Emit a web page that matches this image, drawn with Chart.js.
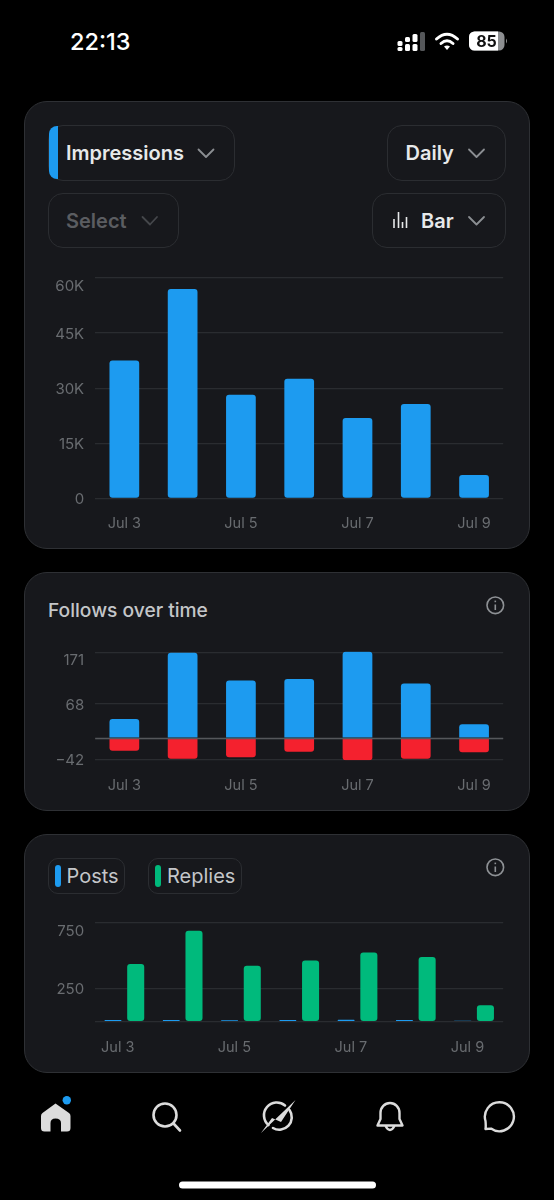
<!DOCTYPE html>
<html lang="en">
<head>
<meta charset="utf-8">
<title>Analytics</title>
<script src="https://cdn.jsdelivr.net/npm/chart.js@4/dist/chart.umd.min.js"></script>
<style>
  html, body { margin: 0; padding: 0; background: #000; }
  body { position: relative; width: 554px; height: 1200px; overflow: hidden; font-family: Inter, "Noto Sans", sans-serif; }
  .card, .btn, .stripe, .txt, canvas, svg.icons { position: absolute; box-sizing: border-box; }
  .card { left: 24px; width: 506px; background: #17181c; border: 1.5px solid #2e3034; border-radius: 23px; }
  .btn { border: 1.5px solid #2b2d31; border-radius: 15px; }
  .txt { white-space: nowrap; line-height: 28px; height: 28px; }
  .strong { font-size: 20px; font-weight: 600; color: #e7e9ea; }
  .plain { font-size: 20px; font-weight: 500; color: #c4c6c9; }
  svg.icons { left: 0; top: 0; pointer-events: none; }
</style>
</head>
<body>

<div class="card" style="top:100.5px;height:448px"></div>
<div class="card" style="top:571.5px;height:239px"></div>
<div class="card" style="top:833.5px;height:239px"></div>

<!-- status bar -->
<div class="txt" style="left:70px;top:27.5px;font-size:23.5px;font-weight:500;color:#fff">22:13</div>

<!-- filters -->
<div class="btn" style="left:48px;top:124.5px;width:187px;height:56px"></div>
<div class="stripe" style="left:49px;top:126px;width:9px;height:53px;background:#1d9bf0;border-radius:8px 0 0 8px"></div>
<div class="txt strong" style="left:66px;top:139px">Impressions</div>
<div class="btn" style="left:387px;top:124.5px;width:119px;height:56px"></div>
<div class="txt strong" style="left:405.5px;top:139px">Daily</div>
<div class="btn" style="left:48px;top:192.5px;width:130.5px;height:55.5px"></div>
<div class="txt strong" style="left:66px;top:207px;color:#5b5d61">Select</div>
<div class="btn" style="left:372px;top:192.5px;width:134px;height:55.5px"></div>
<div class="txt strong" style="left:421px;top:207px">Bar</div>

<!-- follows card title -->
<div class="txt plain" style="left:48px;top:595.5px;font-size:19.2px">Follows over time</div>

<!-- posts / replies legend -->
<div class="btn" style="left:48px;top:858px;width:77px;height:35.5px;border-radius:10px"></div>
<div class="stripe" style="left:55px;top:864.5px;width:5.5px;height:22px;background:#1d9bf0;border-radius:3px"></div>
<div class="txt plain" style="left:66.5px;top:862px;font-weight:400">Posts</div>
<div class="btn" style="left:148px;top:858px;width:93.5px;height:35.5px;border-radius:10px"></div>
<div class="stripe" style="left:155px;top:864.5px;width:5.5px;height:22px;background:#00ba7c;border-radius:3px"></div>
<div class="txt plain" style="left:167px;top:862px;font-weight:400">Replies</div>

<canvas id="impressionsChart" style="left:24px;top:260px"></canvas>
<canvas id="followsChart" style="left:24px;top:630px"></canvas>
<canvas id="postsChart" style="left:24px;top:900px"></canvas>

<svg class="icons" width="554" height="1200" viewBox="0 0 554 1200" fill="none">
  <!-- signal -->
  <g fill="#fff">
    <rect x="397.5" y="41" width="5" height="5" rx="1.5"/><rect x="397.5" y="47" width="5" height="4" rx="1.5"/>
    <rect x="405" y="37" width="5" height="5" rx="1.5"/><rect x="405" y="44" width="5" height="7" rx="1.5"/>
    <rect x="412.5" y="34" width="5" height="8" rx="1.5"/><rect x="412.5" y="44" width="5" height="7" rx="1.5"/>
    <rect x="420" y="32" width="5" height="19" rx="1.5" fill="#55575a"/>
  </g>
  <!-- wifi -->
  <g stroke="#fff" stroke-width="3" stroke-linecap="round">
    <path d="M436.5 39 Q447 29.5 457.5 39"/>
    <path d="M441 43.5 Q447 38 453 43.5"/>
  </g>
  <path d="M444 46.5 L447 50 L450 46.5 Q447 44.5 444 46.5Z" fill="#fff"/>
  <!-- battery -->
  <rect x="469" y="31.5" width="35.5" height="19" rx="5.5" fill="#8d8f91"/>
  <path d="M474.5 31.5 H498 V50.5 H474.5 A5.5 5.5 0 0 1 469 45 V37 A5.5 5.5 0 0 1 474.5 31.5Z" fill="#fff"/>
  <path d="M506 38.5 Q508 41 506 43.5Z" fill="#8d8f91"/>
  <text x="486.5" y="47" text-anchor="middle" font-family="Inter" font-size="16" font-weight="700" fill="#111">85</text>

  <!-- chevrons -->
  <g stroke="#8b8e92" stroke-width="1.8" stroke-linecap="round" stroke-linejoin="round">
    <polyline points="198.5,149.5 206,157 213.5,149.5"/>
    <polyline points="469,149.5 476.5,157 484,149.5"/>
    <polyline points="469,217 476.5,224.5 484,217"/>
    <polyline points="142.5,217 150,224.5 157,217" stroke="#45474b"/>
  </g>
  <!-- bar glyph -->
  <g stroke="#e7e9ea" stroke-width="1.6">
    <line x1="394" y1="219" x2="394" y2="228"/><line x1="398.5" y1="212" x2="398.5" y2="228"/>
    <line x1="402.5" y1="222" x2="402.5" y2="228"/><line x1="406.5" y1="217" x2="406.5" y2="228"/>
  </g>

  <!-- info icons -->
  <g stroke="#8e9195" stroke-width="1.6">
    <circle cx="495.3" cy="605.3" r="8.3"/><circle cx="495.3" cy="867.3" r="8.3"/>
    <line x1="495.3" y1="604.5" x2="495.3" y2="610"/><line x1="495.3" y1="866.5" x2="495.3" y2="872"/>
    <line x1="495.3" y1="600.6" x2="495.3" y2="602.2"/><line x1="495.3" y1="862.6" x2="495.3" y2="864.2"/>
  </g>

  <!-- bottom navigation -->
  <path fill-rule="evenodd" fill="#dcdcdc" d="M55.5 1103.5 L69 1113 Q70.5 1114 70.5 1116 V1128 Q70.5 1131.5 67 1131.5 H61 V1123 Q61 1118.5 55.5 1118.5 Q50.5 1118.5 50.5 1123 V1131.5 H44.5 Q41 1131.5 41 1128 V1116 Q41 1114 42.5 1113Z"/>
  <circle cx="66.8" cy="1100.3" r="4.2" fill="#1d9bf0"/>
  <g stroke="#dcdcdc" stroke-width="2.6" stroke-linecap="round" stroke-linejoin="round">
    <circle cx="165" cy="1115" r="11.5"/>
    <line x1="173.5" y1="1123.5" x2="180" y2="1130.5"/>
    <path d="M268.5 1125 A12.5 12.5 0 0 1 285 1105.5"/>
    <path d="M289.5 1110 A12.5 12.5 0 0 1 273 1128"/>
    <path d="M380.5 1113 A9.5 10 0 0 1 399.5 1113 V1119 L402.5 1125.5 H377.5 L380.5 1119Z M385.5 1126 Q390 1134 394.5 1126" stroke-width="2.4"/>
    <path d="M485.5 1128 L491 1127.6 A14.5 14.5 0 1 0 485.5 1120 Q486 1125 485.5 1128Z" stroke-width="2.4" transform="translate(0 1)"/>
  </g>
  <path d="M261 1133 L295.5 1100 L281 1122 L272 1118 Z" fill="#dcdcdc"/>
  <rect x="179" y="1181.5" width="197" height="7" rx="3.5" fill="#fff"/>
</svg>

<script>
// Chart data

const days = ["Jul 3", "Jul 4", "Jul 5", "Jul 6", "Jul 7", "Jul 8", "Jul 9"];

const impressions = [37550, 57000, 28200, 32560, 21900, 25700, 6400];
const impressionsTicks = [0, 15000, 30000, 45000, 60000];

const follows = [38, 170, 115, 118, 172, 109, 28];
const unfollows = [-25, -41, -38, -27, -44, -41, -28];
const followsTicks = [-42, 0, 68, 171];

const posts = [12, 12, 11, 12, 15, 13, 6];
const replies = [438, 692, 425, 465, 526, 491, 125];
const postsTicks = [0, 250, 750];

// Shared styling

const blue = "#1d9bf0";
const red = "#f4212e";
const green = "#00ba7c";
const gridColor = "#2a2c30";
const tickColor = "#696c70";

// Top tick label hangs under its grid line, an empty first line pushes it down
function yLabel(text, value, ticks) {
  if (value === ticks[ticks.length - 1]) return ["", text];
  return text;
}

function xAxis(height, padding, labelOffset) {
  return {
    grid: { display: false },
    border: { display: false },
    afterFit: (scale) => { scale.height = height; },
    ticks: {
      autoSkip: false,
      maxRotation: 0,
      padding: padding,
      labelOffset: labelOffset,
      color: tickColor,
      font: { family: "Inter", size: 14.5 },
      callback: (value, index) => (index % 2 === 0 ? days[index] : ""),
    },
  };
}

function yAxis(min, max, ticks, format, topDrop) {
  return {
    min: min,
    max: max,
    border: { display: false },
    grid: { color: gridColor, lineWidth: 1.3, drawTicks: false },
    afterFit: (scale) => {
      scale.width = 71.2;
      scale.paddingTop = 0;
      scale.paddingBottom = 0;
    },
    afterBuildTicks: (scale) => { scale.ticks = ticks.map((v) => ({ value: v })); },
    ticks: {
      padding: 11,
      labelOffset: 1,
      color: tickColor,
      font: { family: "Inter", size: 15, lineHeight: topDrop + "px" },
      callback: (value) => yLabel(format(value), value, ticks),
    },
  };
}

function sharedOptions(top, scales) {
  return {
    responsive: false,
    animation: false,
    layout: { padding: { top: top, right: 26.8, left: 0, bottom: 0 } },
    plugins: { legend: { display: false }, tooltip: { enabled: false } },
    scales: scales,
  };
}

function sizeCanvas(id, height) {
  const canvas = document.getElementById(id);
  canvas.width = 506;
  canvas.height = height;
  return canvas.getContext("2d");
}

// Impressions

new Chart(sizeCanvas("impressionsChart", 290), {
  type: "bar",
  data: {
    labels: days,
    datasets: [{
      label: "Impressions",
      data: impressions,
      backgroundColor: blue,
      borderRadius: 3,
      borderSkipped: false,
      categoryPercentage: 1,
      barPercentage: 0.51,
    }],
  },
  options: sharedOptions(18, {
    x: xAxis(51.6, 8.6, 0),
    y: yAxis(0, 60000, impressionsTicks, (v) => (v === 0 ? "0" : v / 1000 + "K"), 14),
  }),
});

// Follows over time

// Zero line sits on top of the stacked bars
const zeroLine = {
  id: "zeroLine",
  afterDatasetsDraw(chart) {
    const { ctx, chartArea, scales } = chart;
    const y = Math.round(scales.y.getPixelForValue(0)) + 0.5;
    ctx.save();
    ctx.strokeStyle = "#55575b";
    ctx.lineWidth = 1.5;
    ctx.beginPath();
    ctx.moveTo(chartArea.left, y);
    ctx.lineTo(chartArea.right, y);
    ctx.stroke();
    ctx.restore();
  },
};

const followsScales = {
  x: { ...xAxis(39.7, 9, 0), stacked: true },
  y: { ...yAxis(-44, 173, followsTicks, (v) => (v === 0 ? "" : String(v).replace("-", "\u2212")), 15), stacked: true },
};

new Chart(sizeCanvas("followsChart", 170), {
  type: "bar",
  plugins: [zeroLine],
  data: {
    labels: days,
    datasets: [
      {
        label: "Follows",
        data: follows,
        backgroundColor: blue,
        borderRadius: { topLeft: 3, topRight: 3 },
        borderSkipped: false,
        categoryPercentage: 1,
        barPercentage: 0.51,
      },
      {
        label: "Unfollows",
        data: unfollows,
        backgroundColor: red,
        borderRadius: { bottomLeft: 3, bottomRight: 3 },
        borderSkipped: false,
        categoryPercentage: 1,
        barPercentage: 0.51,
      },
    ],
  },
  options: sharedOptions(21.3, followsScales),
});

// Posts and replies

new Chart(sizeCanvas("postsChart", 170), {
  type: "bar",
  data: {
    labels: days,
    datasets: [
      {
        label: "Posts",
        data: posts,
        backgroundColor: blue,
        borderRadius: 1,
        borderSkipped: false,
        categoryPercentage: 0.78,
        barPercentage: 0.75,
      },
      {
        label: "Replies",
        data: replies,
        backgroundColor: green,
        borderRadius: 3,
        borderSkipped: false,
        categoryPercentage: 0.78,
        barPercentage: 0.75,
      },
    ],
  },
  options: sharedOptions(23, {
    x: xAxis(48.4, 9.5, -6.6),
    y: yAxis(0, 750, postsTicks, (v) => (v === 0 ? "" : String(v)), 15),
  }),
});
</script>
</body>
</html>
